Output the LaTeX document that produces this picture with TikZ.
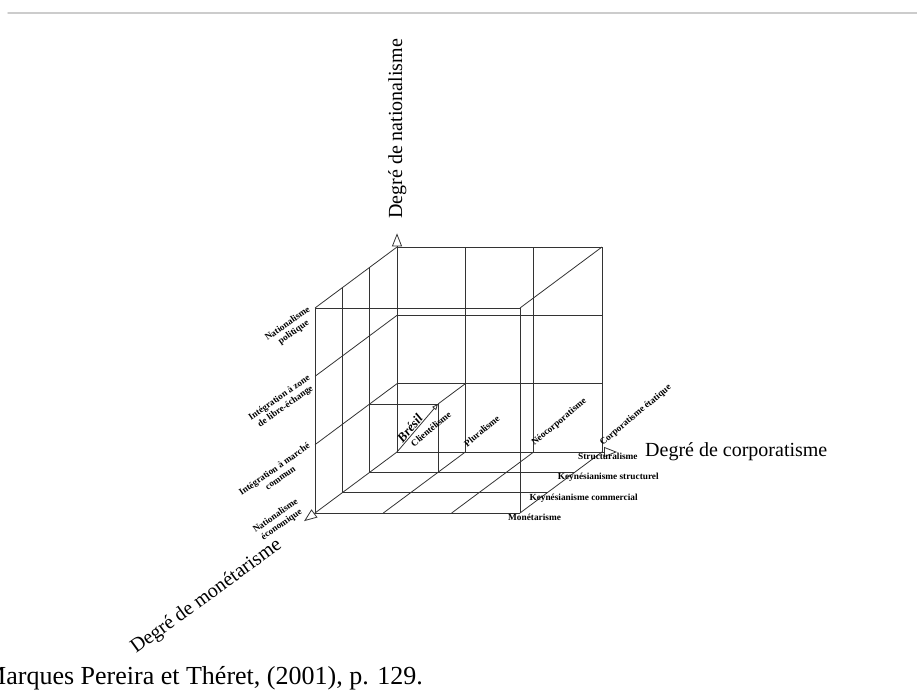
\documentclass[tikz,border=0pt]{standalone}
\usepackage{fontspec}
\setmainfont{Liberation Serif}
\usetikzlibrary{arrows.meta}

\begin{document}
\begin{tikzpicture}[x=1pt,y=1pt,
  rule/.style={line width=0.8pt,black!80},
  axis/.style={rule,-{Triangle[open,length=13pt,width=10pt]}},
  tick/.style={font=\fontsize{9.3}{10.5}\selectfont\bfseries,inner sep=1pt},
  natlabel/.style={tick,align=center,anchor=north east,xshift=-8pt,yshift=4pt,rotate=35},
  corlabel/.style={tick,anchor=south west,xshift=2pt,yshift=3pt,rotate=40},
  monlabel/.style={tick,anchor=north west},
  axislabel/.style={font=\fontsize{20}{24}\selectfont,inner sep=0pt,anchor=base west}]
\useasboundingbox (0,0) rectangle (917,696);
\draw[line width=1.5pt,black!20,line cap=round] (8,683) -- (917,683);
\node[axislabel,rotate=90] (nat) at (402,477) {Degré de nationalisme};
\node[axislabel] (cor) at (645,239) {Degré de corporatisme};
\node[axislabel,rotate=36] (mon) at (136,42) {Degré de monétarisme};
\node[anchor=base west,inner sep=0pt,font=\fontsize{26}{30}\selectfont] (source) at (-17,12) {Marques Pereira et Théret, (2001), p. 129.};
% cube: (corporatisme, nationalisme, monetarisme)
\begin{scope}[shift={(397,244)},x={(68.33pt,0pt)},y={(0pt,68.33pt)},z={(-27.33pt,-20.33pt)}]
% back face
\draw[rule] (1,0,0) -- (1,3,0);
\draw[rule] (2,0,0) -- (2,3,0);
\draw[rule] (3,0,0) -- (3,3,0);
\draw[rule] (0,1,0) -- (3,1,0);
\draw[rule] (0,2,0) -- (3,2,0);
\draw[rule] (0,3,0) -- (3,3,0);
% left face
\draw[rule] (0,0,1) -- (0,3,1);
\draw[rule] (0,0,2) -- (0,3,2);
\draw[rule] (0,0,3) -- (0,3,3);
\draw[rule] (0,1,0) -- (0,1,3);
\draw[rule] (0,2,0) -- (0,2,3);
\draw[rule] (0,3,0) -- (0,3,3);
% bottom face
\draw[rule] (0,0,1) -- (3,0,1);
\draw[rule] (0,0,2) -- (3,0,2);
\draw[rule] (0,0,3) -- (3,0,3);
\draw[rule] (1,0,0) -- (1,0,3);
\draw[rule] (2,0,0) -- (2,0,3);
\draw[rule] (3,0,0) -- (3,0,3);
% front and top edges
\draw[rule] (0,3,3) -- (3,3,3) -- (3,0,3);
\draw[rule] (3,3,0) -- (3,3,3);
% small cube
\draw[rule] (0,1,1) -- (1,1,1) -- (1,0,1);
\draw[rule] (1,1,1) -- (1,1,0);
% axes
\draw[axis] (0,0,0) -- (0,3.2,0);
\draw[axis] (0,0,0) -- (3.22,0,0);
\draw[axis] (0,0,0) -- (0,0,3.4);
\draw[rule,-{Triangle[open,length=6pt,width=5pt]}] (0,0,0) -- (1,1,1);
\node[font=\fontsize{13}{15}\selectfont\bfseries\itshape,inner sep=1pt,anchor=south,rotate=50] (br) at (0.42,0.42,0.42) {Brésil};
% nationalisme
\node[natlabel] (npol) at (0,3,3) {Nationalisme\\politique};
\node[natlabel] (nzone) at (0,2,3) {Intégration à zone\\de libre-échange};
\node[natlabel] (nmar) at (0,1,3) {Intégration à marché\\commun};
\node[natlabel] (neco) at (0,0.32,3.44) {Nationalisme\\économique};
% corporatisme
\node[corlabel] (ccli) at (0.22,0,0) {Clientélisme};
\node[corlabel] (cplu) at (1,0,0) {Pluralisme};
\node[corlabel] (cneo) at (2,0,0) {Néocorporatisme};
\node[corlabel] (ceta) at (3,0,0) {Corporatisme étatique};
% monetarisme
\node[monlabel,xshift=-13pt] (mmon) at (3,0,3) {Monétarisme};
\node[monlabel,xshift=-19pt] (mcom) at (3,0,2) {Keynésianisme commercial};
\node[monlabel,xshift=-18pt] (mstr) at (3,0,1) {Keynésianisme structurel};
\node[monlabel,xshift=-25pt] (mstc) at (3,0,0) {Structuralisme};
\end{scope}
\end{tikzpicture}
\end{document}
